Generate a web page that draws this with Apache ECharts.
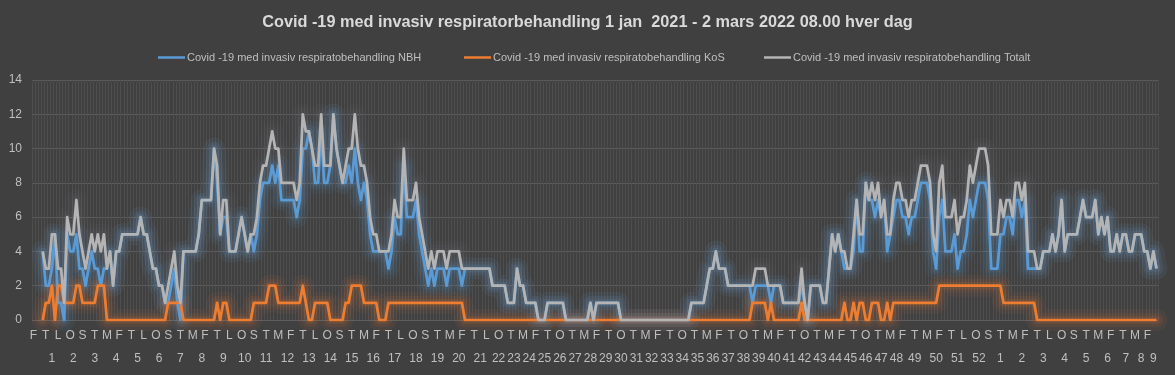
<!DOCTYPE html>
<html><head><meta charset="utf-8">
<script src="https://cdn.jsdelivr.net/npm/echarts@6/dist/echarts.min.js"></script>
<style>html,body{margin:0;padding:0;background:#404040;}#c{width:1175px;height:375px;}</style>
</head><body><div id="c"></div>
<script>
const titleText = 'Covid -19 med invasiv respiratorbehandling 1 jan  2021 - 2 mars 2022 08.00 hver dag';
const seriesNames = [
  'Covid -19 med invasiv respiratobehandling NBH',
  'Covid -19 med invasiv respiratobehandling KoS',
  'Covid -19 med invasiv respiratobehandling Totalt'
];
// reporting periods: [first day, last day, weekdays only]
const dateSegments = [
  ['2021-01-01', '2021-05-30', false],
  ['2021-05-31', '2021-12-05', true],
  ['2021-12-06', '2022-02-13', false],
  ['2022-02-14', '2022-03-02', true]
];
const dayNames = ['S', 'M', 'T', 'O', 'T', 'F', 'L']; // søndag..lørdag
const hiddenWeeks = ['53'];
const yTicks = { min: 0, max: 14, step: 2 };

const totalt = [null,null,null,
 4,3,3,5,5,3,3,
 1,6,5,5,7,5,4,3,4,5,
 4,5,4,5,3,4,2,4,4,5,
 5,5,5,5,5,6,5,5,4,3,
 3,2,2,1,2,3,4,2,1,4,
 4,4,4,4,5,7,7,7,7,10,
 9,5,7,7,4,4,4,5,6,5,
 4,5,5,6,8,9,9,10,11,10,
 10,8,8,8,8,8,7,8,12,11,
 11,10,9,9,12,9,9,9,12,10,
 9,8,9,10,10,12,10,9,9,8,
 6,5,5,4,4,4,4,5,7,6,
 6,10,7,7,7,8,6,5,4,3,
 4,3,4,4,4,3,4,4,4,4,
 3,3,3,3,3,3,3,3,3,3,
 2,2,2,2,2,1,1,1,3,2,
 2,1,1,1,1,0,0,0,1,1,
 1,1,1,1,0,0,0,0,0,0,
 0,0,1,0,1,1,1,1,1,1,
 1,1,0,0,0,0,0,0,0,0,
 0,0,0,0,0,0,0,0,0,0,
 0,0,0,0,0,1,1,1,1,1,
 2,3,3,4,3,3,3,2,2,2,
 2,2,2,2,2,2,3,3,3,3,
 2,2,2,2,2,1,1,1,1,1,
 1,3,1,0,2,2,2,2,1,1,
 3,5,4,5,4,4,3,3,5,7,
 5,5,8,7,8,7,8,6,7,5,
 5,7,8,8,7,7,6,7,7,8,
 9,9,9,8,5,4,8,9,6,6,
 6,7,5,6,6,7,9,8,9,10,
 10,10,9,5,5,5,7,6,7,7,
 6,8,8,7,8,4,4,4,3,3,
 4,4,4,5,4,5,7,4,5,5,
 5,5,6,7,6,6,6,7,5,6,
 5,6,4,4,5,4,5,5,4,4,
 5,5,5,4,4,3,4,3];

const kos = [null,null,null,
 0,1,1,2,0,2,2,
 1,1,1,1,2,2,1,1,1,1,
 1,2,2,2,0,0,0,0,0,0,
 0,0,0,0,0,0,0,0,0,0,
 0,0,0,0,1,1,1,1,1,0,
 0,0,0,0,0,0,0,0,0,0,
 1,0,1,1,0,0,0,0,0,0,
 0,0,1,1,1,1,1,2,2,2,
 1,1,1,1,1,1,1,1,2,1,
 0,0,1,1,1,1,1,0,0,0,
 0,0,1,1,2,2,2,2,1,1,
 1,1,1,0,0,0,1,1,1,1,
 1,1,1,1,1,1,1,1,1,1,
 1,1,1,1,1,1,1,1,1,1,
 1,0,0,0,0,0,0,0,0,0,
 0,0,0,0,0,0,0,0,0,0,
 0,0,0,0,0,0,0,0,0,0,
 0,0,0,0,0,0,0,0,0,0,
 0,0,0,0,0,0,0,0,0,0,
 0,0,0,0,0,0,0,0,0,0,
 0,0,0,0,0,0,0,0,0,0,
 0,0,0,0,0,0,0,0,0,0,
 0,0,0,0,0,0,0,0,0,0,
 0,0,0,0,0,1,1,1,1,1,
 0,1,0,0,0,0,0,0,0,0,
 0,1,0,0,0,0,0,0,0,0,
 0,0,0,0,0,1,0,0,1,0,
 1,1,0,0,1,1,1,0,0,1,
 0,1,1,1,1,1,1,1,1,1,
 1,1,1,1,1,1,2,2,2,2,
 2,2,2,2,2,2,2,2,2,2,
 2,2,2,2,2,2,2,1,1,1,
 1,1,1,1,1,1,1,1,0,0,
 0,0,0,0,0,0,0,0,0,0,
 0,0,0,0,0,0,0,0,0,0,
 0,0,0,0,0,0,0,0,0,0,
 0,0,0,0,0,0,0,0];

const nbh = [null,null,null,
 4,2,2,3,5,1,1,
 0,5,4,4,5,3,3,2,3,4,
 3,3,2,3,3,4,2,4,4,5,
 5,5,5,5,5,6,5,5,4,3,
 3,2,2,1,1,2,3,1,0,4,
 4,4,4,4,5,7,7,7,7,10,
 8,5,6,6,4,4,4,5,6,5,
 4,5,4,5,7,8,8,8,9,8,
 9,7,7,7,7,7,6,7,10,10,
 11,10,8,8,11,8,8,9,12,10,
 9,8,8,9,8,10,8,7,8,7,
 5,4,4,4,4,4,3,4,6,5,
 5,9,6,6,6,7,5,4,3,2,
 3,2,3,3,3,2,3,3,3,3,
 2,3,3,3,3,3,3,3,3,3,
 2,2,2,2,2,1,1,1,3,2,
 2,1,1,1,1,0,0,0,1,1,
 1,1,1,1,0,0,0,0,0,0,
 0,0,1,0,1,1,1,1,1,1,
 1,1,0,0,0,0,0,0,0,0,
 0,0,0,0,0,0,0,0,0,0,
 0,0,0,0,0,1,1,1,1,1,
 2,3,3,4,3,3,3,2,2,2,
 2,2,2,2,2,1,2,2,2,2,
 2,1,2,2,2,1,1,1,1,1,
 1,2,1,0,2,2,2,2,1,1,
 3,5,4,5,4,3,3,3,4,7,
 4,4,8,7,7,6,7,6,7,4,
 5,6,7,7,6,6,5,6,6,7,
 8,8,8,7,4,3,6,7,4,4,
 4,5,3,4,4,5,7,6,7,8,
 8,8,7,3,3,3,5,5,6,6,
 5,7,7,6,7,3,3,3,3,3,
 4,4,4,5,4,5,7,4,5,5,
 5,5,6,7,6,6,6,7,5,6,
 5,6,4,4,5,4,5,5,4,4,
 5,5,5,4,4,3,4,3];

// ---- build the category axis (one category per reported day) ----
function isoWeek(d) {
  const t = new Date(Date.UTC(d.getUTCFullYear(), d.getUTCMonth(), d.getUTCDate()));
  const day = t.getUTCDay() || 7;
  t.setUTCDate(t.getUTCDate() + 4 - day);
  const y0 = new Date(Date.UTC(t.getUTCFullYear(), 0, 1));
  return Math.ceil(((t - y0) / 86400000 + 1) / 7);
}
const dayLetters = [];
const weekNums = [];
dateSegments.forEach(([a, b, wkOnly]) => {
  const d = new Date(a + 'T00:00:00Z'), end = new Date(b + 'T00:00:00Z');
  while (d <= end) {
    const wd = d.getUTCDay();
    if (!wkOnly || (wd !== 0 && wd !== 6)) {
      dayLetters.push(dayNames[wd]);
      weekNums.push(String(isoWeek(d)));
    }
    d.setUTCDate(d.getUTCDate() + 1);
  }
});
// week label at the middle category of each week group
const weekCenters = new Set();
let s = 0;
for (let i = 1; i <= weekNums.length; i++) {
  if (i === weekNums.length || weekNums[i] !== weekNums[s]) {
    if (!hiddenWeeks.includes(weekNums[s])) weekCenters.add(s + Math.floor((i - 1 - s) / 2));
    s = i;
  }
}

const colors = ['#5B9BD5', '#ED7D31', '#B4B4B4'];
const glowRGB = ['91,155,213', '237,125,49', '150,162,178'];
const glowLayers = [ // [width, opacity] per glow layer and series
  [[22, 0.07], [14, 0.09], [8, 0.12]],
  [[22, 0.06], [14, 0.08], [8, 0.12]],
  [[22, 0.03], [14, 0.04], [8, 0.05]]
];
const values = [nbh, kos, totalt];
const legendLefts = [153, 459, 759];
const font = "'Liberation Sans',Arial,sans-serif";
const txt = '#BFBFBF';

const glowSeries = [];
values.forEach((v, i) => glowLayers[i].forEach(([w, a]) => glowSeries.push({
  type: 'line', data: v, xAxisIndex: 0, symbol: 'none', silent: true,
  legendHoverLink: false, tooltip: { show: false },
  lineStyle: { color: 'rgba(' + glowRGB[i] + ',' + a + ')', width: w, cap: 'round', join: 'round' },
  z: 1
})));
const mainSeries = values.map((v, i) => ({
  name: seriesNames[i], type: 'line', data: v, xAxisIndex: 0,
  symbol: 'none', connectNulls: false,
  lineStyle: { color: colors[i], width: 2.75, join: 'round' },
  itemStyle: { color: colors[i] },
  z: 3 + i
}));

const chart = echarts.init(document.getElementById('c'));
chart.setOption({
  backgroundColor: '#404040',
  animation: false,
  title: {
    text: titleText, left: 'center', top: 10,
    textStyle: { color: '#D9D9D9', fontSize: 16.3, fontWeight: 'bold', fontFamily: font }
  },
  legend: seriesNames.map((n, i) => ({
    data: [n], left: legendLefts[i], top: 47, icon: 'rect',
    itemWidth: 27, itemHeight: 2.5, itemGap: 2,
    textStyle: { color: txt, fontSize: 11, fontFamily: font, padding: [0, 0, 0, -3] }
  })),
  grid: { left: 32, right: 17, top: 80, bottom: 55 },
  xAxis: [{
    type: 'category', data: dayLetters, boundaryGap: true,
    axisLine: { show: false }, axisTick: { show: false },
    axisLabel: { interval: 3, color: txt, fontSize: 12, margin: 10, fontFamily: font },
    splitLine: { show: true, interval: 0, lineStyle: { color: '#4E4E4E', width: 1 } }
  }, {
    type: 'category', data: weekNums, boundaryGap: true, position: 'bottom', offset: 23,
    axisLine: { show: false }, axisTick: { show: false },
    axisLabel: { interval: (i) => weekCenters.has(i), color: txt, fontSize: 12, margin: 10, fontFamily: font },
    splitLine: { show: false }
  }],
  yAxis: {
    type: 'value', min: yTicks.min, max: yTicks.max, interval: yTicks.step,
    axisLine: { show: false }, axisTick: { show: false },
    axisLabel: { color: txt, fontSize: 12, margin: 10, fontFamily: font },
    splitLine: { lineStyle: { color: '#5E5E5E', width: 1 } }
  },
  series: glowSeries.concat(mainSeries)
});
</script></body></html>
